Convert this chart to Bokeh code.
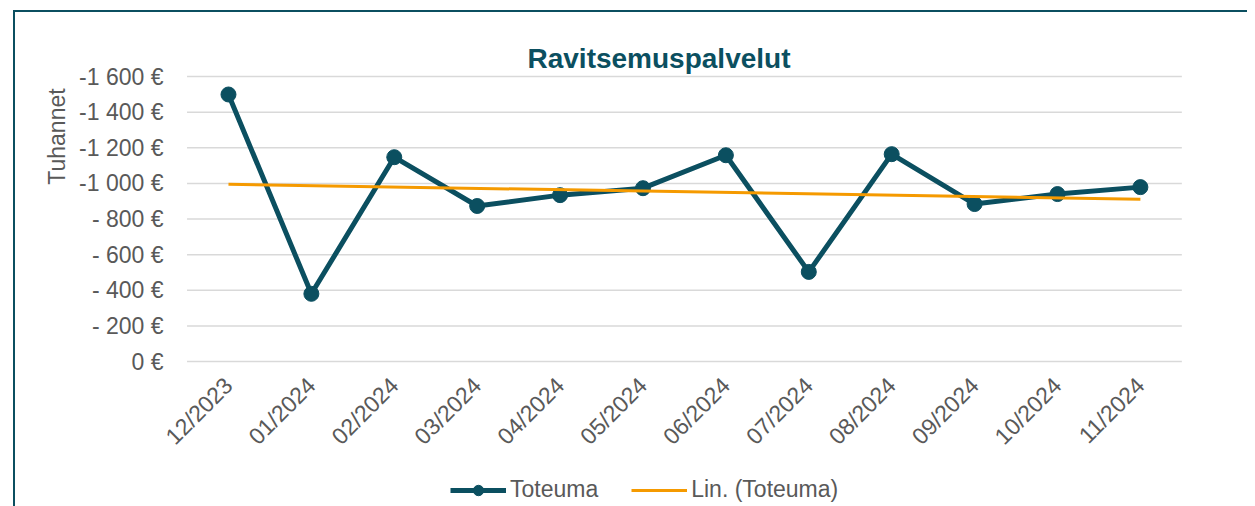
import math
from bokeh.plotting import figure
from bokeh.core.properties import value
from bokeh.models import (Range1d, Label, Legend, LegendItem, ColumnDataSource, InlineStyleSheet)
from bokeh.embed import file_html
from bokeh.resources import INLINE

months = ["12/2023", "01/2024", "02/2024", "03/2024", "04/2024", "05/2024",
          "06/2024", "07/2024", "08/2024", "09/2024", "10/2024", "11/2024"]
toteuma = [-1499, -380, -1147, -873, -934, -973, -1158, -503, -1164, -884, -940, -979]
trend_values = [-995, -911]
y_ticks = [0, -200, -400, -600, -800, -1000, -1200, -1400, -1600]
y_tick_labels = ["0 €", "- 200 €", "- 400 €", "- 600 €", "- 800 €",
                 "-1 000 €", "-1 200 €", "-1 400 €", "-1 600 €"]

TEAL = "#0B4F60"
ORANGE = "#F59A00"
GREY = "#595959"
FONT = "Liberation Sans"

xs = list(range(len(months)))
trend_x = [xs[0], xs[-1]]

# the whole canvas is the plotting frame; every text is placed through the data scales
p = figure(width=1247, height=506, output_backend="svg", toolbar_location=None,
           x_axis_type=None, y_axis_type=None,
           x_range=Range1d(-2.750, 12.292), y_range=Range1d(814.0, -2026.7),
           min_border=0)
p.outline_line_color = None
p.background_fill_color = "white"
p.border_fill_color = "white"

# horizontal gridlines across the plot area
p.segment(x0=-0.5, y0=y_ticks, x1=len(months) - 0.5, y1=y_ticks,
          line_color="#D9D9D9", line_width=1.5)

# y tick labels
p.text(x=-0.784, y=y_ticks, text=y_tick_labels, text_align="right", text_baseline="middle",
       text_font=value(FONT), text_font_size="23px", text_color=GREY)

# x tick labels (rotated 45 degrees)
p.text(x=xs, y=112, text=months, angle=math.pi / 4, text_align="right",
       text_baseline="middle", text_font=value(FONT), text_font_size="23px",
       text_color=GREY)

# series
src = ColumnDataSource(dict(x=xs, y=toteuma))
l1 = p.line("x", "y", source=src, line_color=TEAL, line_width=5)
c1 = p.scatter("x", "y", source=src, size=15, fill_color=TEAL, line_color=TEAL)
l2 = p.line(trend_x, trend_values, line_color=ORANGE, line_width=3)

# title and axis title
p.add_layout(Label(x=3.607, y=-1701, text="Ravitsemuspalvelut", text_align="left",
                   text_baseline="alphabetic", text_font=FONT, text_font_size="28px",
                   text_font_style="bold", text_color=TEAL))
p.add_layout(Label(x=-2.063, y=-1263, text="Tuhannet", angle=math.pi / 2,
                   text_align="center", text_baseline="middle", text_font=FONT,
                   text_font_size="23px", text_color=GREY))

legend = Legend(items=[LegendItem(label="Toteuma", renderers=[l1, c1]),
                       LegendItem(label="Lin. (Toteuma)", renderers=[l2])],
                orientation="horizontal", location=(450, 3),
                label_text_font=FONT, label_text_font_size="23px",
                label_text_color=GREY, glyph_width=56, glyph_height=26,
                spacing=33, border_line_color=None, background_fill_alpha=0,
                padding=0, margin=0, label_standoff=4)
p.add_layout(legend)

# chart-area frame (left and top edges), drawn as a CSS overlay
p.stylesheets = [InlineStyleSheet(css="""
:host::after {
  content: "";
  position: absolute;
  left: 13px; top: 10px; right: 0; bottom: 0;
  border-left: 2px solid #0B4F60;
  border-top: 2px solid #0B4F60;
  pointer-events: none;
}
""")]

out = file_html(p, INLINE)
open("out.html", "w").write(out)
